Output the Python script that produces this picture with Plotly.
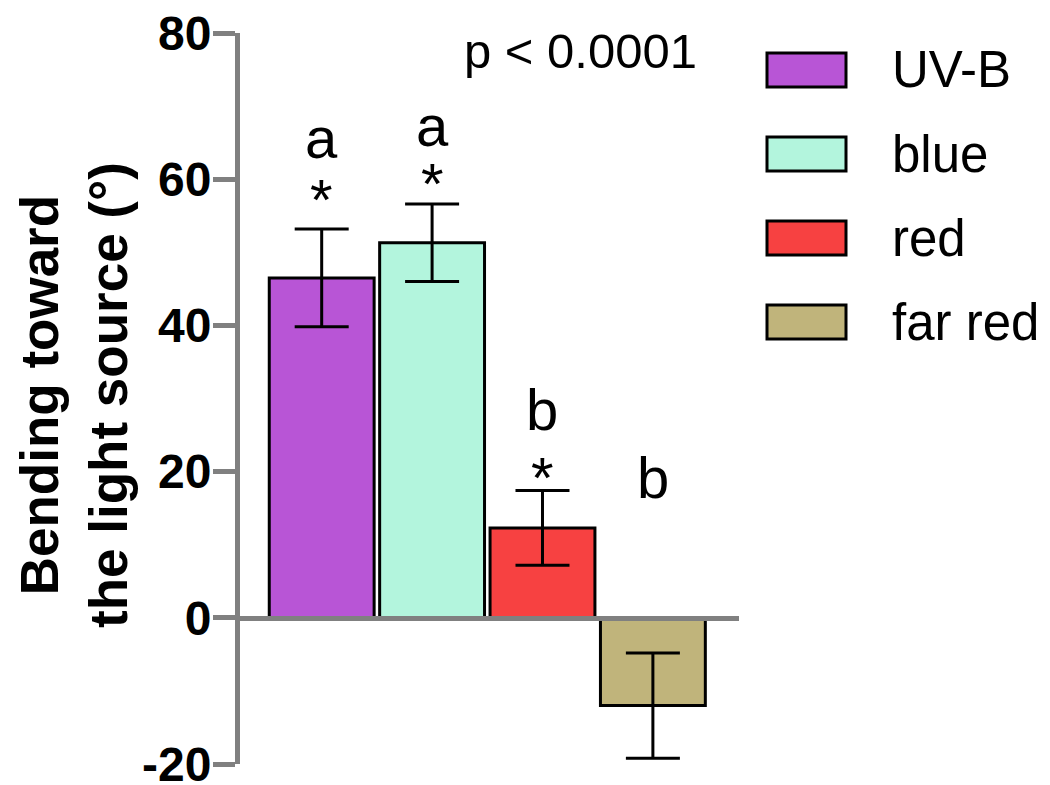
import plotly.graph_objects as go

# ---- data ----
categories = ["UV-B", "blue", "red", "far red"]
means = [46.5, 51.3, 12.3, -12.0]
sems = [6.7, 5.3, 5.1, 7.2]
colors = ["#B855D6", "#B3F5DD", "#F74141", "#C0B47B"]
letters = ["a", "a", "b", "b"]
stars = [True, True, True, False]
y_ticks = [-20, 0, 20, 40, 60, 80]
p_text = "p < 0.0001"

# ---- layout constants (annotation placement, in data units) ----
letter_y = [65.7, 67.4, 28.5, 19.2]
star_y = [57.2, 59.4, 19.2, None]

FONT = "Arial, Liberation Sans, sans-serif"
GRAY = "#808080"

x = list(range(len(categories)))

fig = go.Figure()
fig.add_trace(go.Bar(
    x=x, y=means,
    marker=dict(color=colors, line=dict(color="black", width=3)),
    error_y=dict(type="data", array=sems, visible=True, color="black",
                 thickness=3, width=27),
    showlegend=False,
))

# plot area geometry (pixels)
L, R, T, B = 240, 739, 33, 764
W, H = 1050, 785
pw, ph = R - L, B - T

def px_to_paper_x(px):
    return (px - L) / pw

def px_to_paper_y(py):
    return (B - py) / ph

annotations = []
for i in x:
    annotations.append(dict(x=i, y=letter_y[i], xref="x", yref="y", text=letters[i],
                            showarrow=False, font=dict(size=58, color="black", family=FONT),
                            xanchor="center", yanchor="middle"))
    if stars[i]:
        annotations.append(dict(x=i, y=star_y[i], xref="x", yref="y", text="*",
                                showarrow=False, font=dict(size=58, color="black", family=FONT),
                                xanchor="center", yanchor="middle"))

# p-value
annotations.append(dict(x=px_to_paper_x(580), y=px_to_paper_y(51), xref="paper", yref="paper",
                        text=p_text, showarrow=False,
                        font=dict(size=49, color="black", family=FONT),
                        xanchor="center", yanchor="middle"))

# y-axis title
annotations.append(dict(x=px_to_paper_x(74), y=px_to_paper_y(395), xref="paper", yref="paper",
                        text="<b>Bending toward<br>the light source (°)</b>", textangle=-90,
                        showarrow=False, font=dict(size=53, color="black", family=FONT),
                        xanchor="center", yanchor="middle"))

# custom legend
shapes = []
box_x0, box_x1 = 767, 846
box_h = 34
legend_y = [70, 154, 238, 322]
for i, cat in enumerate(categories):
    yc = legend_y[i]
    shapes.append(dict(type="rect", xref="paper", yref="paper",
                       x0=px_to_paper_x(box_x0), x1=px_to_paper_x(box_x1),
                       y0=px_to_paper_y(yc + box_h / 2), y1=px_to_paper_y(yc - box_h / 2),
                       fillcolor=colors[i], line=dict(color="black", width=3)))
    annotations.append(dict(x=px_to_paper_x(890), y=px_to_paper_y(yc), xref="paper", yref="paper",
                            text=cat, showarrow=False,
                            font=dict(size=51, color="black", family=FONT),
                            xanchor="left", yanchor="middle"))

fig.update_layout(
    width=W, height=H,
    margin=dict(l=L, r=W - R, t=T, b=H - B, autoexpand=False),
    plot_bgcolor="white", paper_bgcolor="white",
    bargap=0.05,
    annotations=annotations,
    shapes=shapes,
    xaxis=dict(range=[-0.74, 3.78], showline=True, linecolor=GRAY, linewidth=5,
               anchor="free", position=0.2, showticklabels=False, ticks="",
               showgrid=False, zeroline=False, layer="above traces", automargin=False),
    yaxis=dict(range=[-20, 80], tickvals=y_ticks, ticktext=[str(v) for v in y_ticks],
               showline=True, linecolor=GRAY, linewidth=5,
               ticks="outside", ticklen=22, tickwidth=5, tickcolor=GRAY,
               tickfont=dict(size=48, color="black", family=FONT, weight="bold"),
               ticklabeloverflow="allow", ticklabelstandoff=-8, automargin=False,
               showgrid=False, zeroline=False, layer="above traces"),
)

fig.write_html("out.html", config={"displayModeBar": False},
               post_script="document.body.style.margin='0';document.body.style.overflow='hidden';")
